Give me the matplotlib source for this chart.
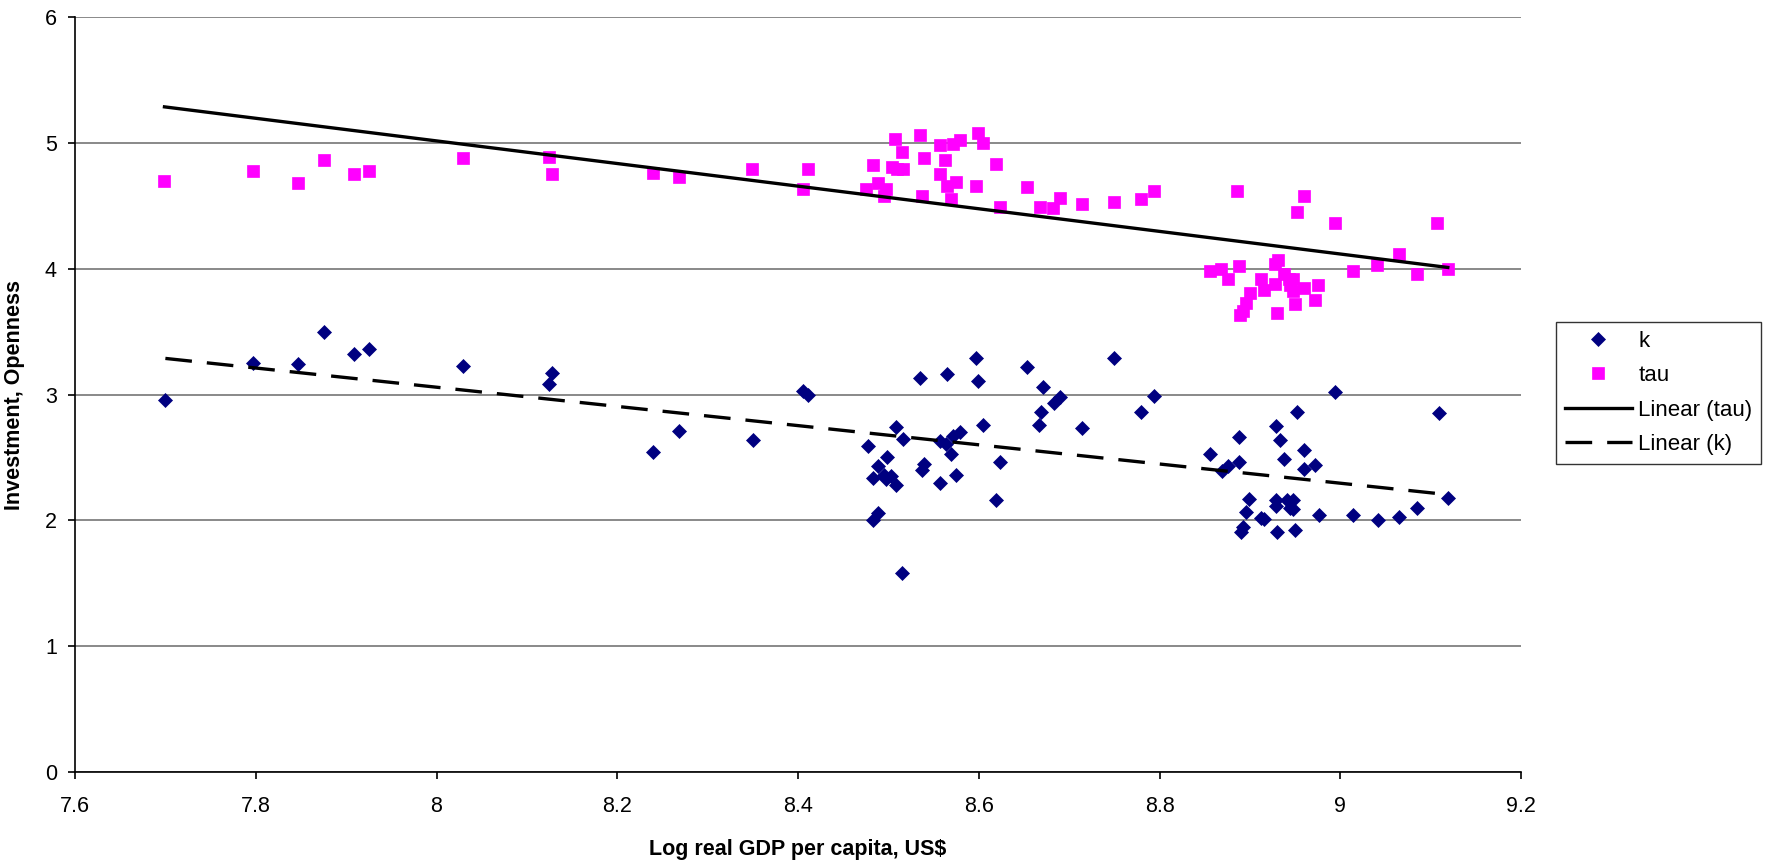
import matplotlib
matplotlib.use("Agg")
import matplotlib.pyplot as plt
import numpy as np

plt.rcParams['font.family'] = ['Liberation Sans', 'DejaVu Sans']

# log real GDP per capita and openness (tau)
tau_x = [7.699, 7.797, 7.847, 7.875, 7.909, 7.925, 8.029, 8.124, 8.128, 8.240,
         8.268, 8.349, 8.405, 8.411,
         8.507, 8.535, 8.557, 8.571, 8.579, 8.599, 8.605, 8.515, 8.483, 8.504,
         8.510, 8.516, 8.539, 8.563, 8.619, 8.557, 8.565, 8.575, 8.597, 8.653,
         8.475, 8.489, 8.497, 8.495, 8.537, 8.569, 8.623, 8.668, 8.682, 8.690,
         8.714, 8.750, 8.780, 8.794, 8.886,
         8.960, 8.952, 8.994, 9.107, 9.065, 8.856, 8.868, 8.876, 8.888, 8.912,
         8.916, 8.928, 8.931, 8.928, 8.938, 8.943, 8.948, 8.944, 8.948, 8.960,
         8.975, 8.972, 8.950, 8.900, 8.896, 8.892, 8.889, 8.930, 9.014, 9.041,
         9.085, 9.119]
tau_y = [4.70, 4.78, 4.68, 4.86, 4.75, 4.78, 4.88, 4.89, 4.75, 4.76,
         4.73, 4.79, 4.63, 4.79,
         5.03, 5.06, 4.98, 4.99, 5.02, 5.08, 5.00, 4.93, 4.82, 4.81,
         4.79, 4.79, 4.88, 4.86, 4.83, 4.75, 4.66, 4.69, 4.66, 4.65,
         4.63, 4.68, 4.63, 4.58, 4.58, 4.55, 4.49, 4.49, 4.48, 4.56,
         4.51, 4.53, 4.55, 4.62, 4.62,
         4.58, 4.45, 4.36, 4.36, 4.12, 3.98, 4.00, 3.92, 4.02, 3.92,
         3.83, 4.04, 4.07, 3.88, 3.96, 3.92, 3.92, 3.87, 3.82, 3.85,
         3.87, 3.75, 3.72, 3.81, 3.73, 3.66, 3.63, 3.65, 3.98, 4.03,
         3.96, 4.00]

# log real GDP per capita and investment (k)
k_x = [7.700, 7.797, 7.847, 7.875, 7.909, 7.925, 8.029, 8.128, 8.124, 8.240,
       8.268, 8.350, 8.405, 8.411,
       8.535, 8.565, 8.597, 8.599, 8.653, 8.671, 8.683, 8.690, 8.669, 8.667,
       8.508, 8.516, 8.477, 8.499, 8.489, 8.483, 8.495, 8.497, 8.503, 8.508,
       8.489, 8.483, 8.515, 8.557, 8.564, 8.571, 8.579, 8.569, 8.539, 8.537,
       8.557, 8.575, 8.605, 8.623, 8.619,
       8.714, 8.750, 8.780, 8.794, 8.856, 8.869, 8.876,
       8.994, 9.109, 8.952, 8.929, 8.933, 8.888, 8.888, 8.938, 8.960, 8.960,
       8.972, 8.899, 8.896, 8.892, 8.890, 8.912, 8.916, 8.929, 8.929, 8.941,
       8.948, 8.944, 8.948, 8.930, 8.950, 8.976, 9.014, 9.042, 9.065, 9.085,
       9.119]
k_y = [2.96, 3.25, 3.24, 3.50, 3.32, 3.36, 3.23, 3.17, 3.08, 2.54,
       2.71, 2.64, 3.03, 3.00,
       3.13, 3.16, 3.29, 3.11, 3.22, 3.06, 2.93, 2.98, 2.86, 2.76,
       2.74, 2.65, 2.59, 2.50, 2.43, 2.34, 2.36, 2.33, 2.35, 2.28,
       2.06, 2.00, 1.58, 2.63, 2.61, 2.67, 2.70, 2.53, 2.45, 2.40,
       2.30, 2.36, 2.76, 2.46, 2.16,
       2.73, 3.29, 2.86, 2.99, 2.53, 2.39, 2.43,
       3.02, 2.85, 2.86, 2.75, 2.64, 2.66, 2.46, 2.49, 2.56, 2.41,
       2.44, 2.17, 2.07, 1.95, 1.91, 2.02, 2.01, 2.16, 2.11, 2.16,
       2.16, 2.10, 2.09, 1.91, 1.92, 2.04, 2.04, 2.00, 2.03, 2.10,
       2.18]

x_ticks = [7.6, 7.8, 8, 8.2, 8.4, 8.6, 8.8, 9, 9.2]
x_tick_labels = ["7.6", "7.8", "8", "8.2", "8.4", "8.6", "8.8", "9", "9.2"]
y_ticks = [0, 1, 2, 3, 4, 5, 6]

fig = plt.figure(figsize=(17.73, 8.63), dpi=100)
ax = fig.add_axes([75 / 1773, 1 - 772 / 863, (1521 - 75) / 1773, (772 - 17) / 863])

k_pts, = ax.plot(k_x, k_y, linestyle='none', marker='D', markersize=6.8,
                 color='#000080', markeredgewidth=0.5, label='k', zorder=3)
tau_pts, = ax.plot(tau_x, tau_y, linestyle='none', marker='s', markersize=8.4,
                   color='#FF00FF', markeredgewidth=0.5, label='tau', zorder=3)

# Excel-style linear trendlines
for xs, ys, style, name in [(tau_x, tau_y, '-', 'Linear (tau)'), (k_x, k_y, '--', 'Linear (k)')]:
    slope, icept = np.polyfit(xs, ys, 1)
    xl = np.array([min(xs), max(xs)])
    line, = ax.plot(xl, slope * xl + icept, color='black', linewidth=2.4,
                    linestyle=style, label=name, zorder=4)
    if style == '--':
        line.set_dashes((8, 4.5))
        k_line = line
    else:
        tau_line = line

ax.set_xlim(7.6, 9.2)
ax.set_ylim(0, 6)
ax.set_xticks(x_ticks)
ax.set_xticklabels(x_tick_labels)
ax.set_yticks(y_ticks)
ax.yaxis.grid(True, color='#808080', linewidth=1.3)
ax.set_axisbelow(True)
for side in ['top', 'right']:
    ax.spines[side].set_visible(False)
for side in ['left', 'bottom']:
    ax.spines[side].set_linewidth(1.2)
ax.tick_params(axis='both', direction='out', length=5, width=1.2, labelsize=15.5, pad=8)
ax.tick_params(axis='x', pad=12)

ax.set_xlabel('Log real GDP per capita, US$', fontsize=15.5, fontweight='bold', labelpad=16)
ax.set_ylabel('Investment, Openness', fontsize=15.5, fontweight='bold', labelpad=14)

leg = fig.legend([k_pts, tau_pts, tau_line, k_line],
                 ['k', 'tau', 'Linear (tau)', 'Linear (k)'],
                 loc='upper left', bbox_to_anchor=(1556 / 1773, 1 - 322 / 863),
                 fontsize=16, frameon=True, fancybox=False, handlelength=3.0,
                 handletextpad=0.3, labelspacing=0.6, borderpad=0.4, borderaxespad=0)
leg.get_frame().set_edgecolor('black')
leg.get_frame().set_linewidth(1.0)

fig.savefig('out.png', dpi=100)
